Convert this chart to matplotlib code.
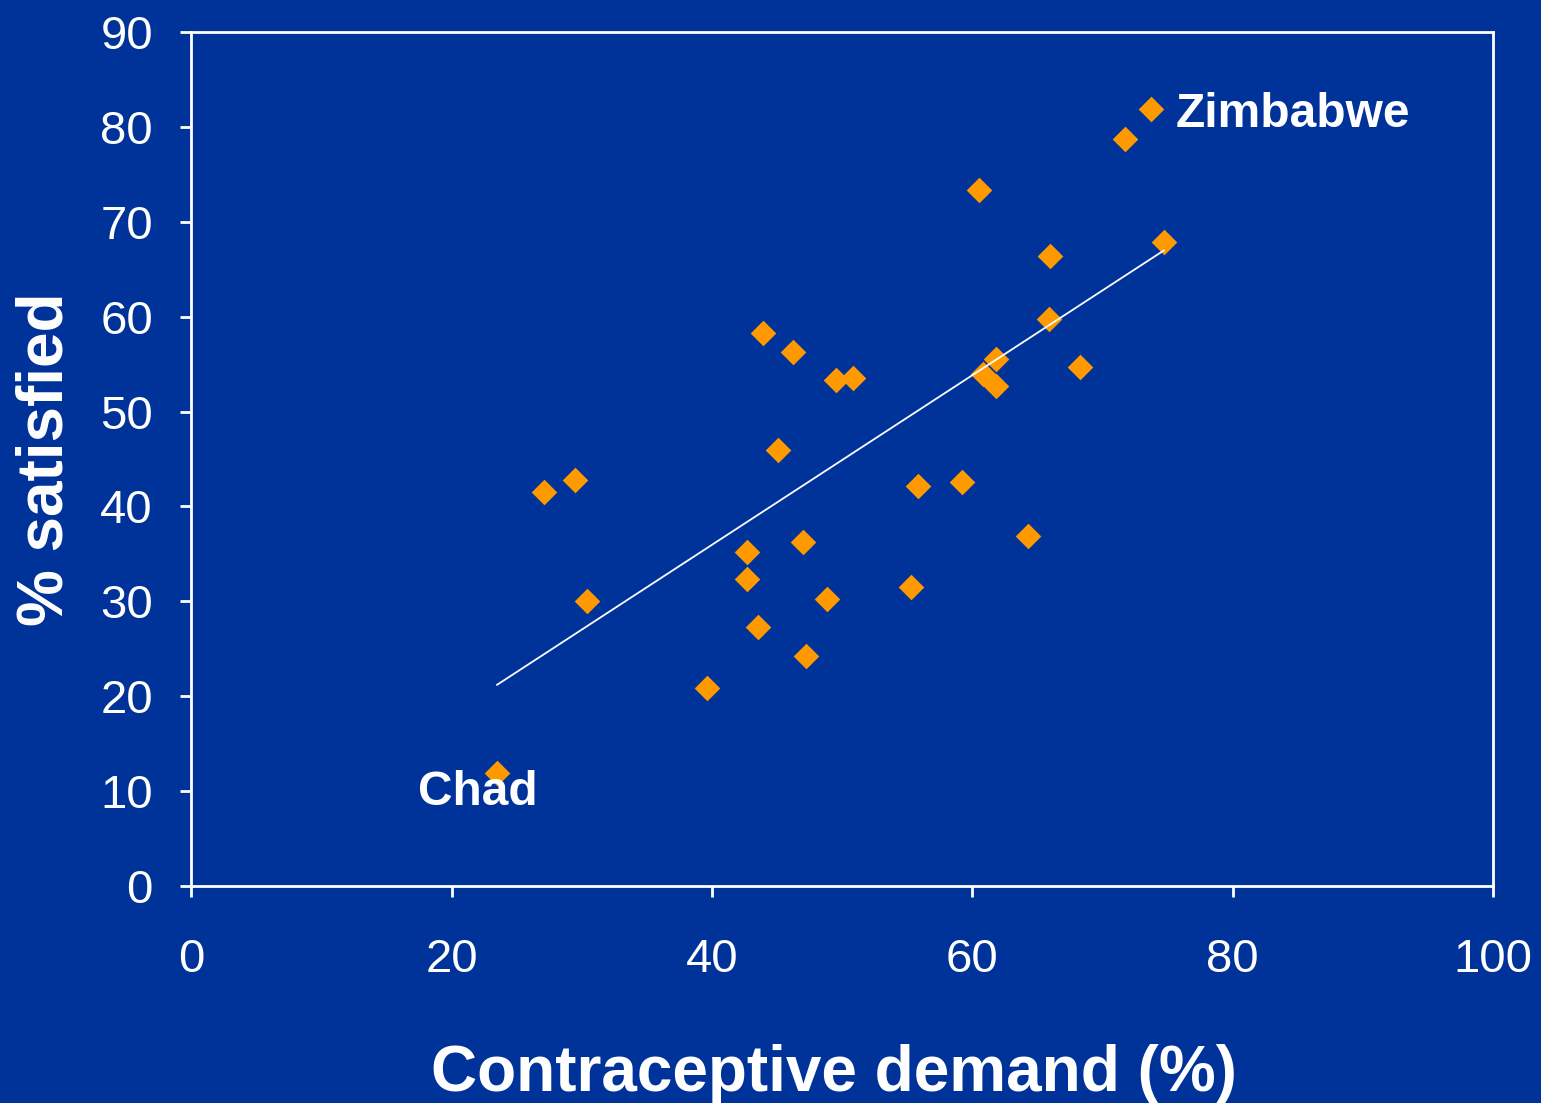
import numpy as np
import matplotlib.pyplot as plt

plt.rcParams['font.family'] = ['Liberation Sans', 'DejaVu Sans']

# 数据：避孕需求 (%) 与 满足比例 (%)
demand = [73.7, 71.7, 60.5, 74.7, 66.0, 65.9, 43.9, 46.2, 61.8, 68.3,
          60.8, 49.5, 50.8, 61.8, 45.1, 29.5, 27.1, 55.8, 59.2, 64.3,
          47.0, 42.7, 42.7, 55.3, 30.4, 48.8, 43.5, 47.2, 39.6, 23.5]
satisfied = [81.9, 78.7, 73.3, 67.9, 66.4, 59.8, 58.3, 56.3, 55.5, 54.7,
             54.0, 53.3, 53.5, 52.7, 45.9, 42.8, 41.5, 42.2, 42.6, 36.9,
             36.3, 35.2, 32.4, 31.5, 30.0, 30.2, 27.3, 24.2, 20.9, 11.9]

bg = '#003399'
fig = plt.figure(figsize=(15.41, 11.03), dpi=100, facecolor=bg)
ax = fig.add_axes([0.124, 0.1967, 0.845, 0.7743])
ax.set_facecolor(bg)

ax.scatter(demand, satisfied, marker='D', s=170, color='#FF9900', zorder=2, linewidths=0)

# 趋势线
k, b = np.polyfit(demand, satisfied, 1)
xs = np.array([min(demand), max(demand)])
ax.plot(xs, k * xs + b, color='white', lw=1.3, zorder=3)

ax.text(75.6, 81.3, 'Zimbabwe', color='white', fontsize=34.5, fontweight='bold', va='center')
ax.text(17.4, 9.9, 'Chad', color='white', fontsize=34.5, fontweight='bold', va='center')

ax.set_xlim(0, 100)
ax.set_ylim(0, 90)
ax.set_xticks(range(0, 101, 20))
ax.set_yticks(range(0, 91, 10))
for s in ax.spines.values():
    s.set_color('white')
    s.set_linewidth(2)
ax.tick_params(colors='white', labelsize=34, length=8, width=2, direction='out')
ax.tick_params(axis='x', pad=29.5)
ax.tick_params(axis='y', pad=19.5)

ax.set_xlabel('Contraceptive demand (%)', color='white', fontsize=46, fontweight='bold')
ax.set_ylabel('% satisfied', color='white', fontsize=46, fontweight='bold')
ax.xaxis.set_label_coords(0.494, -0.185)
ax.yaxis.set_label_coords(-0.089, 0.5)

plt.savefig('out.png', facecolor=bg)
